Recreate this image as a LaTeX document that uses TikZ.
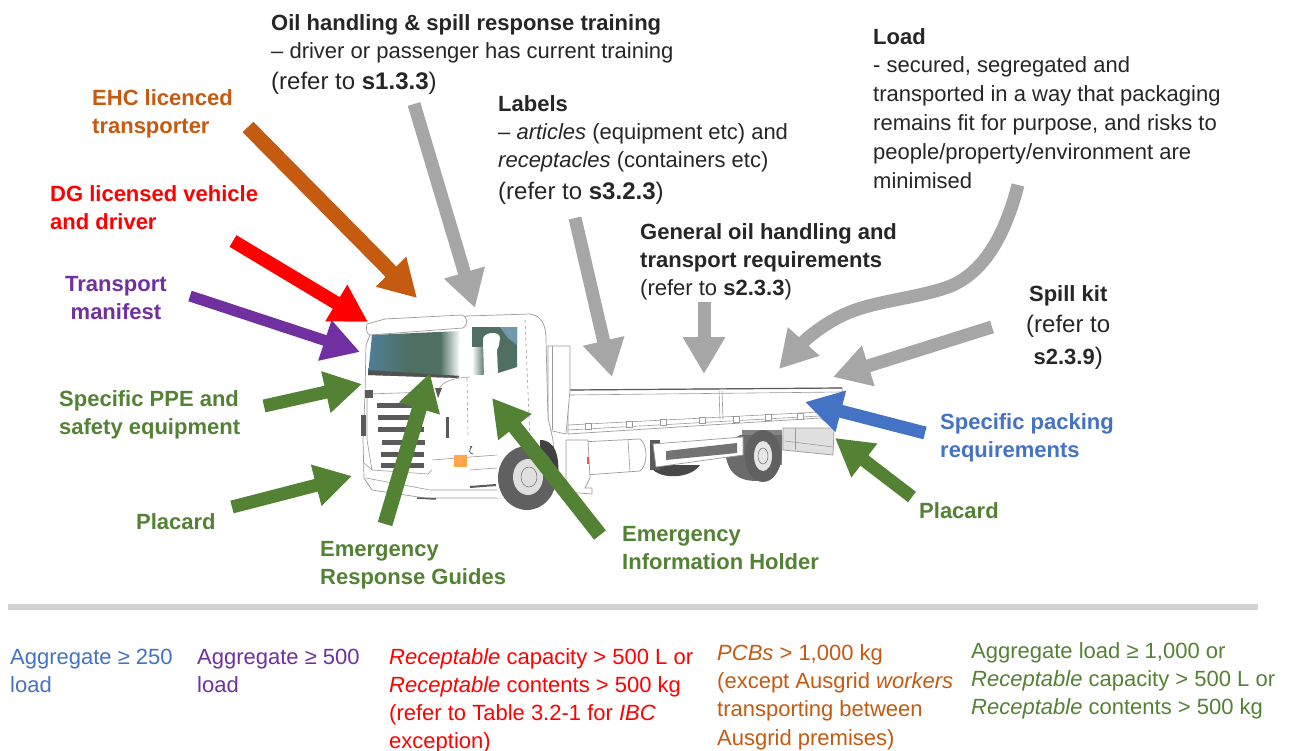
\documentclass[tikz,border=0pt]{standalone}
\usepackage{fontspec}
\setmainfont{Liberation Sans}
\usetikzlibrary{arrows.meta}
\definecolor{cor}{HTML}{C55A11}
\definecolor{cre}{HTML}{FF0000}
\definecolor{cpu}{HTML}{7030A0}
\definecolor{cgr}{HTML}{548235}
\definecolor{cbl}{HTML}{4472C4}
\definecolor{cgy}{HTML}{A6A6A6}
\definecolor{ctx}{HTML}{262626}
\definecolor{ln}{HTML}{9A9A9A}
\definecolor{dk}{HTML}{5A5A5A}
\definecolor{wsa}{HTML}{4F7F98}
\definecolor{wsb}{HTML}{4E6F62}
\tikzset{
 txt/.style={inner sep=0pt,anchor=north west,align=left,font=\fontsize{22}{28.3}\selectfont},
 btxt/.style={txt,font=\fontsize{22}{28.3}\selectfont\bfseries},
 hd/.style={draw=#1,-{Triangle[length=37pt,width=40pt,fill=#1]}},
 truck/.style={draw=ln,line width=.7pt,fill=white,line join=round},
 tline/.style={draw=ln,line width=.6pt},
 bar/.style={draw=none,fill=dk},
}
\begin{document}
\begin{tikzpicture}[x=1pt,y=-1pt]
\useasboundingbox (0,0) rectangle (1295,751);
\fill[white] (0,0) rectangle (1295,751);
% ---------- truck ----------
\fill[dk!80!black] (650,465) .. controls (655,480) and (690,480) .. (700,465) -- cycle;
\fill[dk] (650,440) rectangle (660,470);
\path[truck] (580,442) -- (640,439) .. controls (648,445) and (648,465) .. (640,471) -- (585,475) -- (575,470) -- cycle;
\draw[tline] (628,440) -- (630,472);
\path[truck] (566,440) -- (588,440) -- (590,478) -- (585,488) -- (592,488) -- (592,494) -- (566,492) -- cycle;
\fill[cre!70] (587,457) rectangle (589,464);
\path[truck,fill=gray!25] (783,428) -- (834,428) -- (833,455) -- (783,450) -- cycle;
\draw[tline] (785,441) -- (833,447);
\draw[tline] (795,428) -- (795,450);
% rear wheels
\fill[dk!75] (742,430) rectangle (782,465);
\fill[dk!90] (725,445) .. controls (725,470) and (735,481) .. (757,481) .. controls (775,481) and (782,470) .. (782,450) -- (782,435) -- (740,435) -- cycle;
\fill[gray!75!black] (763,456) ellipse [x radius=18,y radius=26];
\fill[gray!20] (763,456) ellipse [x radius=9,y radius=15];
\draw[dk] (763,456) ellipse [x radius=5,y radius=8];
% side box
\path[truck] (653,444) -- (743,437) -- (743,455) -- (656,467) -- cycle;
\fill[dk!85] (666,451) -- (737,443) -- (737,453) -- (666,460) -- cycle;
% flat bed
\path[truck] (568,390) -- (842,388) -- (843,400) -- (836,428) -- (820,418) -- (568,434) -- cycle;
\path[draw=dk,line width=1.2pt] (570,390) -- (842,388);
\draw[tline] (570,395) -- (842,392);
\draw[tline] (719,391) -- (720,419);
\draw[tline] (722,391) -- (723,419);
\draw[tline] (568,425) -- (820,412);
\draw[tline] (568,430) -- (820,416);
\foreach \x/\y in {588/426,629/424,663/422,702/420,736/419,768/417,800/416}
  \draw[tline,fill=white] (\x-3,\y-3) rectangle (\x+3,\y+3);
% headboard
\path[truck] (548,346) -- (570,346) -- (570,390) -- (566,434) -- (548,430) -- cycle;
\draw[tline] (552,346) -- (552,430);
% cab body
\path[truck] (366,345) -- (372,330) -- (467,316) -- (530,314) .. controls (542,316) and (546,325) .. (546,340) -- (548,418) -- (553,440) -- (555,470) -- (540,498) -- (500,498) -- (425,498) -- (372,490) -- (364,478) -- (363,440) -- (365,395) -- cycle;
% visor
\path[truck] (367,324) -- (385,319) -- (462,315) .. controls (468,316) and (468,326) .. (463,328) -- (370,335) .. controls (366,334) and (366,328) .. (367,324) -- cycle;
% windscreen
\begin{scope}
\clip (372,335) -- (460,331) -- (459,378) -- (368,375) -- cycle;
\shade[left color=wsa,right color=wsb] (366,330) rectangle (410,380);
\fill[wsb] (410,330) rectangle (440,380);
\shade[left color=wsb,right color=white] (440,330) rectangle (460,380);
\fill[dk!90!black] (366,370) -- (462,376) -- (462,382) -- (366,382) -- cycle;
\end{scope}
% door / panel
\path[truck,draw=none] (438,380) .. controls (448,384) and (455,375) .. (470,377) -- (497,375) -- (530,368) -- (545,400) -- (540,425) -- (497,437) -- (438,438) -- cycle;
\draw[tline,dashed] (525,320) -- (530,440);
\draw[tline,dashed] (467,378) -- (468,437);
\draw[tline] (439,389) .. controls (442,382) and (452,378) .. (470,377);
\fill[dk] (446,417) rectangle (449,438);
% side window
\fill[wsb] (472,327) -- (517,327) -- (517,367) -- (495,374) -- (472,374) -- cycle;
\shade[left color=white,right color=wsb,draw=none] (472,347) rectangle (485,374);
\fill[wsa!80] (500,327) -- (517,327) -- (517,345) -- (508,338) -- cycle;
% mirror
\path[fill=white,draw=none] (483,340) .. controls (482,332) and (500,330) .. (500,338) -- (499,345) -- (497,350) -- (498,374) -- (484,376) -- cycle;
% grille
\draw[tline] (367,394) -- (430,392);
\draw[tline] (367,394) -- (367,440) -- (372,470) -- (428,474) -- (432,470);
\foreach \a/\b/\yy in {377/412/405,378/420/417,378/424/429,382/425/442,381/424/454,381/424/465}
  \path[bar] (\a,\yy-2.5) rectangle (\b,\yy+2.5);
\fill[dk] (361,415) rectangle (366,436);
\fill[dk] (365,390) rectangle (373,398);
\fill[dk] (435,388) -- (442,388) -- (438,398) -- cycle;
% bumper lines
\draw[tline] (364,463) -- (372,470);
\draw[tline] (366,478) -- (430,490) -- (497,490);
\draw[tline] (432,460) -- (497,455);
\draw[tline] (470,470) -- (497,468);
\draw[dk,line width=2pt] (470,487) -- (496,485);
\fill[orange!70] (454,455) rectangle (467,467);
\draw[dk,line width=.8pt] (470,447) .. controls (476,444) and (464,452) .. (473,454);
% front wheel
\fill[black!75] (540,440) .. controls (555,440) and (560,455) .. (558,480) -- (540,480) -- cycle;
\fill[white] (497,498) -- (497,470) .. controls (500,445) and (520,435) .. (538,440) -- (530,500) -- cycle;
\fill[gray!75!black] (527,478) ellipse [x radius=29,y radius=32];
\fill[gray!25] (528,477) ellipse [x radius=15,y radius=18];
\draw[dk] (529,477) ellipse [x radius=8,y radius=10];
\path[draw=dk,line width=1.5pt] (417,498) -- (436,499);
% ---------- end points ----------
\coordinate (e1a) at (248,127); \coordinate (e1b) at (417,298);
\coordinate (d1a) at (233,241); \coordinate (d1b) at (368,322);
\coordinate (t1a) at (190,296); \coordinate (t1b) at (360,352);
\coordinate (p1a) at (264,406); \coordinate (p1b) at (362,384);
\coordinate (p2a) at (232,507); \coordinate (p2b) at (352,476);
\coordinate (r1a) at (385,524); \coordinate (r1b) at (430,373);
\coordinate (i1a) at (600,535); \coordinate (i1b) at (492,398);
\coordinate (o1a) at (414,104); \coordinate (o1b) at (475,308);
\coordinate (l1a) at (575,218); \coordinate (l1b) at (612,377);
\coordinate (g1a) at (704,302); \coordinate (g1b) at (704,374);
\coordinate (m1a) at (1018,185); \coordinate (m1b) at (779,369);
\coordinate (s1a) at (992,327); \coordinate (s1b) at (833,377);
\coordinate (b1a) at (925,433); \coordinate (b1b) at (805,402);
\coordinate (q1a) at (912,497); \coordinate (q1b) at (835,438);
% ---------- arrows ----------
\draw[hd=cor,line width=15pt] (e1a) -- (e1b);
\draw[hd=cre,line width=13.5pt] (d1a) -- (d1b);
\draw[hd=cpu,line width=11pt] (t1a) -- (t1b);
\draw[hd=cgr,line width=13pt] (p1a) -- (p1b);
\draw[hd=cgr,line width=13pt] (p2a) -- (p2b);
\draw[hd=cgr,line width=15pt] (r1a) -- (r1b);
\draw[hd=cgr,line width=15pt] (i1a) -- (i1b);
\draw[hd=cgy,line width=13pt] (o1a) -- (o1b);
\draw[hd=cgy,line width=13pt] (l1a) -- (l1b);
\draw[hd=cgy,line width=13pt] (g1a) -- (g1b);
\draw[hd=cgy,line width=13pt] (m1a) .. controls (1005,235) and (985,270) .. (953,285) .. controls (925,297) and (880,300) .. (850,312) .. controls (825,322) and (805,340) .. (m1b);
\draw[hd=cgy,line width=13pt] (s1a) -- (s1b);
\draw[hd=cbl,line width=13pt] (b1a) -- (b1b);
\draw[hd=cgr,line width=13pt] (q1a) -- (q1b);
% ---------- labels ----------
\node[btxt,text=cor] (ehc) at (92,89) {EHC licenced\\transporter};
\node[btxt,text=cre] (dg) at (50,185) {DG licensed vehicle\\and driver};
\node[btxt,text=cpu,align=center] (tm) at (65,276) {Transport\\manifest};
\node[btxt,text=cgr] (ppe) at (59,390) {Specific PPE and\\safety equipment};
\node[btxt,text=cgr] (pl1) at (136,513) {Placard};
\node[btxt,text=cgr] (erg) at (320,541) {Emergency\\Response Guides};
\node[btxt,text=cgr] (eih) at (622,526) {Emergency\\Information Holder};
\node[btxt,text=cgr] (pl2) at (919,502) {Placard};
\node[btxt,text=cbl] (spk) at (940,413) {Specific packing\\requirements};
\node[txt,text=ctx] (oil) at (271,14) {\textbf{Oil handling \& spill response training}\\– driver or passenger has current training\\[3pt]{\fontsize{24}{28.3}\selectfont (refer to \textbf{s1.3.3})}};
\node[txt,text=ctx] (lab) at (498,95) {\textbf{Labels}\\– \textit{articles} (equipment etc) and\\\textit{receptacles} (containers etc)\\[3pt]{\fontsize{24}{28.3}\selectfont (refer to \textbf{s3.2.3})}};
\node[txt,text=ctx] (gen) at (640,223) {\textbf{General oil handling and}\\\textbf{transport requirements}\\(refer to \textbf{s2.3.3})};
\node[txt,text=ctx,font=\fontsize{22}{28.8}\selectfont] (loa) at (873,28) {\textbf{Load}\\- secured, segregated and\\transported in a way that packaging\\remains fit for purpose, and risks to\\people/property/environment are\\minimised};
\node[txt,text=ctx,align=center] (sp) at (1026,285) {\textbf{Spill kit}\\[3pt]{\fontsize{24}{28.3}\selectfont (refer to}\\[4pt]\textbf{s2.3.9}{\fontsize{24}{28.3}\selectfont )}};
% ---------- bottom ----------
\fill[gray!35] (8,604) rectangle (1258,610);
\node[txt,text=cbl] (b1) at (10,649) {Aggregate ≥ 250\\load};
\node[txt,text=cpu] (b2) at (197,649) {Aggregate ≥ 500\\load};
\node[txt,text=cre,font=\fontsize{22}{28}\selectfont] (b3) at (389,648) {\textit{Receptable} capacity > 500 L or\\\textit{Receptable} contents > 500 kg\\(refer to Table 3.2-1 for \textit{IBC}\\exception)};
\node[txt,text=cor] (b4) at (717,644) {\textit{PCBs} > 1,000 kg\\(except Ausgrid \textit{workers}\\transporting between\\Ausgrid premises)};
\node[txt,text=cgr] (b5) at (971,642) {Aggregate load ≥ 1,000 or\\\textit{Receptable} capacity > 500 L or\\\textit{Receptable} contents > 500 kg};
\end{tikzpicture}
\end{document}
